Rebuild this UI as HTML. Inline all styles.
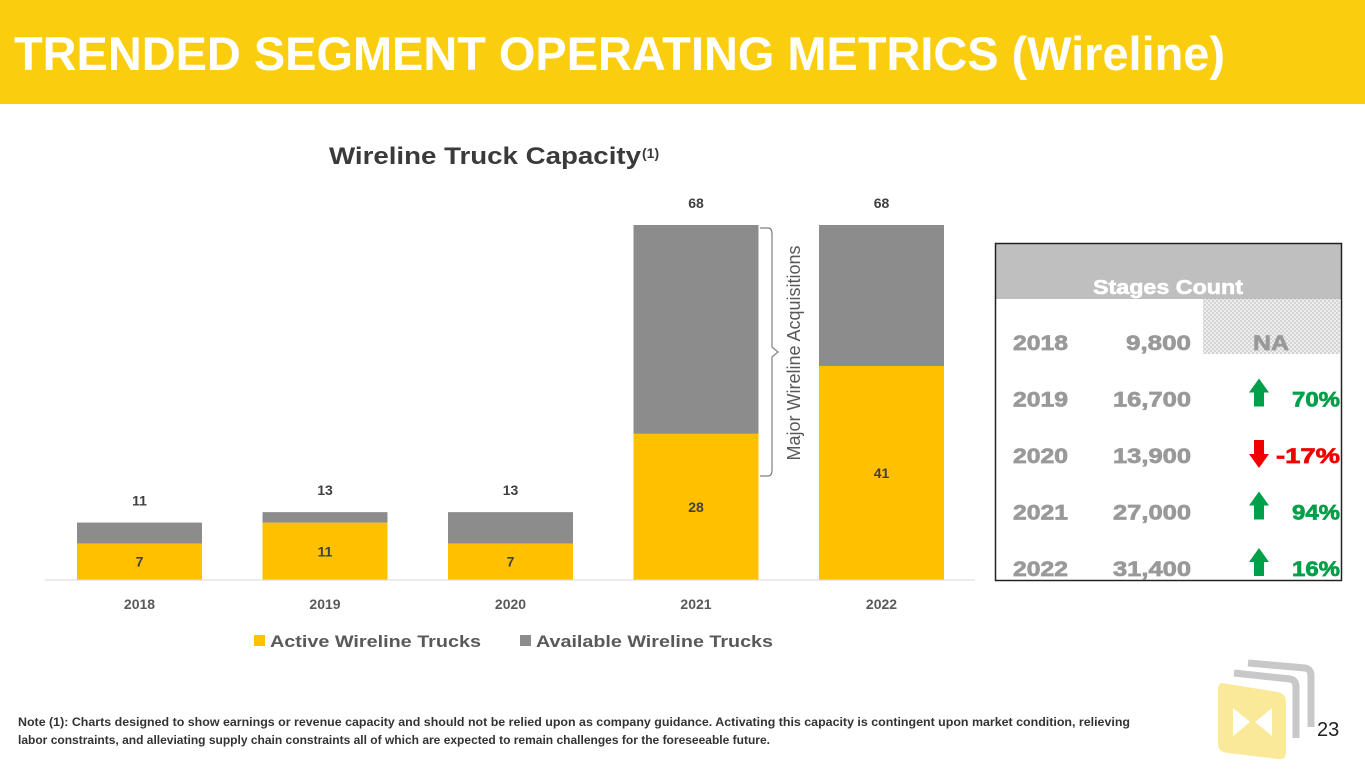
<!DOCTYPE html>
<html><head><meta charset="utf-8"><style>
body{margin:0;width:1365px;height:768px;overflow:hidden;background:#fff;font-family:"Liberation Sans",sans-serif}
</style></head><body>
<svg width="1365" height="768">
<defs><pattern id="dots" width="4" height="4" patternUnits="userSpaceOnUse"><rect width="4" height="4" fill="#eee"/><rect width="2" height="2" fill="#d4d4d4"/><rect x="2" y="2" width="2" height="2" fill="#d4d4d4"/></pattern></defs>
<rect x="0" y="0" width="1365" height="104" fill="#FACD0F"/>
<text x="14" y="70" font-size="47" font-weight="bold" fill="#fff" textLength="1211" lengthAdjust="spacingAndGlyphs">TRENDED SEGMENT OPERATING METRICS (Wireline)</text>
<text x="329" y="164" font-size="24" font-weight="bold" fill="#3a3a3a" textLength="312" lengthAdjust="spacingAndGlyphs">Wireline Truck Capacity</text>
<text x="642" y="158" font-size="14" font-weight="bold" fill="#3a3a3a">(1)</text>
<g id="chart"></g>
<line x1="45" y1="580" x2="975" y2="580" stroke="#d9d9d9" stroke-width="1"/>
<path d="M760,228 L768,228 Q772,228 772,234 L772,347 L778,352 L772,357 L772,470 Q772,476 768,476 L760,476" fill="none" stroke="#7f7f7f" stroke-width="1.2"/>
<text transform="translate(800,353) rotate(-90)" text-anchor="middle" font-size="18" fill="#595959">Major Wireline Acquisitions</text>
<rect x="254" y="635" width="11" height="11" fill="#FFC000"/>
<text x="270" y="647" font-size="17" font-weight="bold" fill="#595959" textLength="211" lengthAdjust="spacingAndGlyphs">Active Wireline Trucks</text>
<rect x="520" y="635" width="11" height="11" fill="#8c8c8c"/>
<text x="536" y="647" font-size="17" font-weight="bold" fill="#595959" textLength="237" lengthAdjust="spacingAndGlyphs">Available Wireline Trucks</text>
<g>
<rect x="995" y="243" width="346" height="56" fill="#bfbfbf"/>
<text x="1168" y="294" text-anchor="middle" font-size="20" font-weight="bold" fill="#fff" stroke="#fff" stroke-width="0.6" textLength="150" lengthAdjust="spacingAndGlyphs">Stages Count</text>
<rect x="1203" y="299" width="137" height="55" fill="url(#dots)"/>
<g id="rows"></g>
<rect x="995.5" y="243.5" width="346" height="337" fill="none" stroke="#222" stroke-width="1.5"/>
</g>
<text x="18" y="726" font-size="11.5" font-weight="bold" fill="#333" textLength="1112" lengthAdjust="spacingAndGlyphs">Note (1): Charts designed to show earnings or revenue capacity and should not be relied upon as company guidance.  Activating this capacity is contingent upon market condition, relieving</text>
<text x="18" y="744" font-size="11.5" font-weight="bold" fill="#333" textLength="752" lengthAdjust="spacingAndGlyphs">labor constraints, and alleviating supply chain constraints all of which are expected to remain challenges for the foreseeable future.</text>
<g>
<path d="M1248,663 L1305,668 Q1311,669 1311,676 L1311,727" fill="none" stroke="#c8c8c8" stroke-width="7"/>
<path d="M1234,673 L1290,679 Q1296,680 1296,687 L1296,738" fill="none" stroke="#c8c8c8" stroke-width="7"/>
<path d="M1222,683 L1278,692 Q1286,694 1286,702 L1286,752 Q1286,760 1278,759 L1228,753 Q1218,752 1218,744 L1218,690 Q1218,683 1222,683Z" fill="#FBE99A"/>
<path d="M1233,708 L1250,722 L1233,736Z M1272,708 L1255,722 L1272,736Z" fill="#fff"/>
</g>
<text x="1317" y="736" font-size="20" fill="#222">23</text>
</svg>
<script>
const years=["2018","2019","2020","2021","2022"];
const active=[7,11,7,28,41];
const totals=[11,13,13,68,68];
const stageYears=["2018","2019","2020","2021","2022"];
const stageCounts=["9,800","16,700","13,900","27,000","31,400"];
const stageChange=[null,70,-17,94,16];
const NS="http://www.w3.org/2000/svg";
const base=580,scale=355/68,x0=139.5,step=185.5,bw=125;
const y=v=>base-v*scale, xc=i=>x0+i*step;
const g=document.getElementById('chart');
function mk(t,a,p){const e=document.createElementNS(NS,t);for(const k in a)e.setAttribute(k,a[k]);(p||g).appendChild(e);return e;}
years.forEach((yr,i)=>{
 const a=mk('rect',{x:xc(i)-bw/2,y:y(active[i]),width:bw,height:active[i]*scale,fill:'#FFC000'});
 
 
 const av=totals[i]-active[i];
 const b=mk('rect',{x:xc(i)-bw/2,y:y(totals[i]),width:bw,height:av*scale,fill:'#8c8c8c'});
 
 
 const l=mk('text',{x:xc(i),y:(y(active[i])+base)/2+5,'text-anchor':'middle','font-size':14,'font-weight':'bold',fill:'#404040'});l.textContent=active[i];
 
 
 const t=mk('text',{x:xc(i),y:y(totals[i])-17,'text-anchor':'middle','font-size':14,'font-weight':'bold',fill:'#404040'});t.textContent=totals[i];
 
 
 const c=mk('text',{x:xc(i),y:609,'text-anchor':'middle','font-size':14,'font-weight':'bold',fill:'#595959'});c.textContent=yr;
 
 
});
const rows=document.getElementById('rows');
const txt=(x,cy,anchor,col,s,len)=>{const a={x:x,y:cy,'text-anchor':anchor,'font-size':21,'font-weight':'bold',fill:col,stroke:col,'stroke-width':0.7};if(len){a.textLength=len;a.lengthAdjust='spacingAndGlyphs';}const e=mk('text',a,rows);e.textContent=s;return e;};
stageYears.forEach((yr,i)=>{
 const cy=350+i*56.5;
 const a=txt(1013,cy,'start','#999',yr,55);
 
 
 const s=stageCounts[i];
 const b=txt(1191,cy,'end','#999',s,s.length*13);
 
 
 const ch=stageChange[i];
 if(ch===null){const n=txt(1271,cy,'middle','#999','NA',36);
  
  return;}
 const up=ch>=0,col=up?'#00A04A':'#F00000',ax=1259;
 const d=up?`M${ax},${cy-28} L${ax+10},${cy-14} L${ax+5},${cy-14} L${ax+5},${cy} L${ax-5},${cy} L${ax-5},${cy-14} L${ax-10},${cy-14}Z`
          :`M${ax},${cy+5} L${ax+10},${cy-9} L${ax+5},${cy-9} L${ax+5},${cy-23} L${ax-5},${cy-23} L${ax-5},${cy-9} L${ax-10},${cy-9}Z`;
 const ar=mk('path',{d:d,fill:col},rows);
 
 
 const ps=ch+'%';
 const p=txt(1340,cy,'end',col,ps,ps.length*16);
 
 
});
</script>
</body></html>
